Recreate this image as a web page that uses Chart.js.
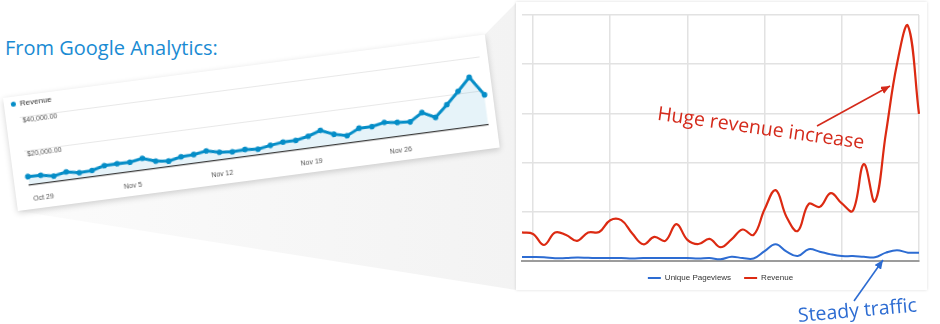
<!DOCTYPE html>
<html>
<head>
<meta charset="utf-8">
<script src="https://cdn.jsdelivr.net/npm/chart.js@4.4.1/dist/chart.umd.min.js"></script>
<style>
  html, body { margin: 0; padding: 0; background: #fff; }
  #stage { position: relative; width: 940px; height: 324px; overflow: hidden; background: #fff; }
  svg { position: absolute; left: 0; top: 0; }
  #title { position: absolute; left: 5px; top: 38px; font: 20px "Open Sans"; line-height: 1; color: #1a8bd3; white-space: nowrap; }
  #gaCard { position: absolute; left: 3px; top: 98px; width: 486px; height: 114px; background: #fff;
            transform-origin: 0 0; transform: rotate(-7.5deg); box-shadow: 0 2px 6px rgba(0,0,0,0.18); }
  #gaCard canvas, #mainCard canvas { position: absolute; left: 0; top: 0; }
  #gaLegend { position: absolute; left: 7px; top: 4px; font: 8px "Liberation Sans"; line-height: 8px; color: #333; white-space: nowrap; }
  #gaLegend span { display: inline-block; width: 5px; height: 5px; border-radius: 50%; background: #058dc7; margin-right: 4px; vertical-align: 0; }
  #mainCard { position: absolute; left: 516px; top: 2px; width: 411px; height: 288px; background: #fff; box-shadow: 0 0 3px rgba(0,0,0,0.14); }
  .note { position: absolute; font-family: "Open Sans"; font-size: 19.5px; line-height: 1; white-space: nowrap; transform-origin: 0 0; }
  #noteRevenue { left: 659px; top: 103px; color: #d42a1b; transform: rotate(8deg); }
  #noteTraffic { left: 797px; top: 305px; color: #2d6cd2; transform: rotate(-5deg); }
</style>
</head>
<body>
<div id="stage">
  <svg width="940" height="324">
    <defs>
      <linearGradient id="wedgeFill" x1="0" y1="0" x2="1" y2="0">
        <stop offset="0" stop-color="#fbfbfb"/>
        <stop offset="1" stop-color="#f3f3f3"/>
      </linearGradient>
    </defs>
    <polygon points="484.8,34.6 516,3 516,290 17.9,211" fill="url(#wedgeFill)"/>
  </svg>

  <div id="title">From Google Analytics:</div>

  <div id="gaCard">
    <canvas id="gaChart" width="486" height="114"></canvas>
    <div id="gaLegend"><span></span>Revenue</div>
  </div>

  <div id="mainCard">
    <canvas id="mainChart" width="411" height="292"></canvas>
  </div>

  <svg width="940" height="324">
    <defs>
      <marker id="headRed" markerUnits="userSpaceOnUse" markerWidth="9" markerHeight="8" refX="9" refY="4" orient="auto">
        <path d="M0,0 L9,4 L0,8 z" fill="#d42a1b"/>
      </marker>
      <marker id="headBlue" markerUnits="userSpaceOnUse" markerWidth="9" markerHeight="8" refX="9" refY="4" orient="auto">
        <path d="M0,0 L9,4 L0,8 z" fill="#2d6cd2"/>
      </marker>
    </defs>
    <line x1="817" y1="126" x2="890" y2="86" stroke="#d42a1b" stroke-width="1.6" marker-end="url(#headRed)"/>
    <line x1="854" y1="301" x2="883" y2="260" stroke="#2d6cd2" stroke-width="1.6" marker-end="url(#headBlue)"/>
  </svg>

  <div class="note" id="noteRevenue">Huge revenue increase</div>
  <div class="note" id="noteTraffic">Steady traffic</div>
</div>

<script>
// dias del periodo (Oct 28 - Dec 3)
const days = ['Oct 28', 'Oct 29', 'Oct 30', 'Oct 31',
  'Nov 1', 'Nov 2', 'Nov 3', 'Nov 4', 'Nov 5', 'Nov 6', 'Nov 7', 'Nov 8', 'Nov 9', 'Nov 10',
  'Nov 11', 'Nov 12', 'Nov 13', 'Nov 14', 'Nov 15', 'Nov 16', 'Nov 17', 'Nov 18', 'Nov 19', 'Nov 20',
  'Nov 21', 'Nov 22', 'Nov 23', 'Nov 24', 'Nov 25', 'Nov 26', 'Nov 27', 'Nov 28', 'Nov 29', 'Nov 30',
  'Dec 1', 'Dec 2', 'Dec 3'];
// etiquetas semanales del eje x
const weekLabels = ['Oct 29', 'Nov 5', 'Nov 12', 'Nov 19', 'Nov 26'];

// Google Analytics revenue ($)
const gaRevenue = [4750, 4560, 3040, 4510, 3040, 3360, 5290, 5470, 5290, 6580,
  3970, 2990, 4560, 4900, 6030, 4240, 3550, 3870, 3040, 4330,
  5270, 5290, 6760, 9220, 5930, 4090, 7550, 7520, 8950, 7990,
  7300, 11860, 7990, 14560, 21470, 28820, 17450];
const gaTicks = [0, 20000, 40000];

// big chart (unlabelled axis, grid steps of 10)
const pageviews = [0.8, 0.8, 0.75, 0.55, 0.6, 0.7, 0.65, 0.6, 0.6, 0.6,
  0.5, 0.6, 0.6, 0.6, 0.6, 0.6, 0.5, 0.6, 0.35, 0.85,
  0.6, 0.5, 2.0, 3.4, 1.9, 1.0, 2.4, 1.9, 1.35, 1.0,
  1.0, 0.85, 0.75, 1.7, 2.2, 1.7, 1.7];
const revenue = [5.8, 5.5, 3.25, 5.8, 5.3, 4.1, 5.8, 5.9, 8.3, 8.3,
  5.6, 3.4, 4.9, 4.1, 7.5, 4.3, 3.45, 4.5, 2.8, 4.4,
  6.4, 5.3, 10.5, 14.4, 8.9, 6.1, 11.6, 11.0, 13.8, 11.7,
  10.2, 19.7, 12.1, 26, 40, 47.8, 29.9];

const gaFont = { family: 'Liberation Sans', size: 7 };

// grafico de Google Analytics (tarjeta girada)
new Chart(document.getElementById('gaChart'), {
  type: 'line',
  data: {
    labels: days,
    datasets: [{
      label: 'Revenue',
      data: gaRevenue,
      borderColor: '#058dc7',
      backgroundColor: 'rgba(5,141,199,0.1)',
      fill: 'origin',
      borderWidth: 3,
      pointRadius: 2.8,
      pointBackgroundColor: '#058dc7',
      pointBorderWidth: 0,
      tension: 0
    }]
  },
  options: {
    responsive: false,
    animation: false,
    devicePixelRatio: 1,
    layout: { padding: { left: 10.4, right: 8.2, top: 0, bottom: 3.8 } },
    plugins: { legend: { display: false }, tooltip: { enabled: false } },
    scales: {
      x: {
        grid: { display: false },
        border: { color: '#3a3a3a', width: 1.2 },
        ticks: {
          autoSkip: false, maxRotation: 0, padding: 2.3, font: gaFont, color: '#555',
          callback: (v, i) => (weekLabels.includes(days[i]) ? days[i] : '')
        }
      },
      y: {
        min: 0,
        max: 49000,
        afterBuildTicks: axis => { axis.ticks = gaTicks.map(v => ({ value: v })); },
        grid: { drawTicks: false, color: ctx => (ctx.tick && ctx.tick.value === 0 ? 'rgba(0,0,0,0)' : '#e8e8e8') },
        border: { display: false },
        ticks: {
          mirror: true, padding: 2, labelOffset: 4, font: gaFont, color: '#555',
          callback: v => (v ? '$' + v.toLocaleString('en-US', { minimumFractionDigits: 2 }) : '')
        }
      }
    }
  }
});

// grafico grande: pageviews vs revenue
new Chart(document.getElementById('mainChart'), {
  type: 'line',
  data: {
    labels: days,
    datasets: [{
      label: 'Unique Pageviews',
      data: pageviews,
      borderColor: '#2d6cd2',
      backgroundColor: '#2d6cd2',
      borderWidth: 2,
      pointRadius: 0,
      tension: 0.4
    }, {
      label: 'Revenue',
      data: revenue,
      borderColor: '#dc2a12',
      backgroundColor: '#dc2a12',
      borderWidth: 2.2,
      pointRadius: 0,
      tension: 0.4
    }]
  },
  options: {
    responsive: false,
    animation: false,
    devicePixelRatio: 1,
    layout: { padding: { left: 6, right: 8, top: 13, bottom: 2 } },
    plugins: {
      tooltip: { enabled: false },
      legend: {
        position: 'bottom',
        labels: {
          boxWidth: 13, boxHeight: 2, padding: 13, color: '#333',
          font: { family: 'Liberation Sans', size: 8 },
          generateLabels: chart => Chart.defaults.plugins.legend.labels.generateLabels(chart)
            .map(l => ({ ...l, lineWidth: 0, fillStyle: l.strokeStyle }))
        }
      }
    },
    scales: {
      x: {
        ticks: { display: false },
        grid: { drawTicks: false, lineWidth: 1.5, color: ctx => (ctx.index % 7 === 1 ? '#e2e2e2' : 'rgba(0,0,0,0)') },
        border: { color: '#9c9c9c', width: 2 }
      },
      y: {
        min: 0,
        max: 50,
        ticks: { display: false, stepSize: 10 },
        grid: { drawTicks: false, lineWidth: 1.5, color: ctx => (ctx.tick && ctx.tick.value === 0 ? 'rgba(0,0,0,0)' : '#e2e2e2') },
        border: { display: false }
      }
    }
  }
});
</script>
</body>
</html>
